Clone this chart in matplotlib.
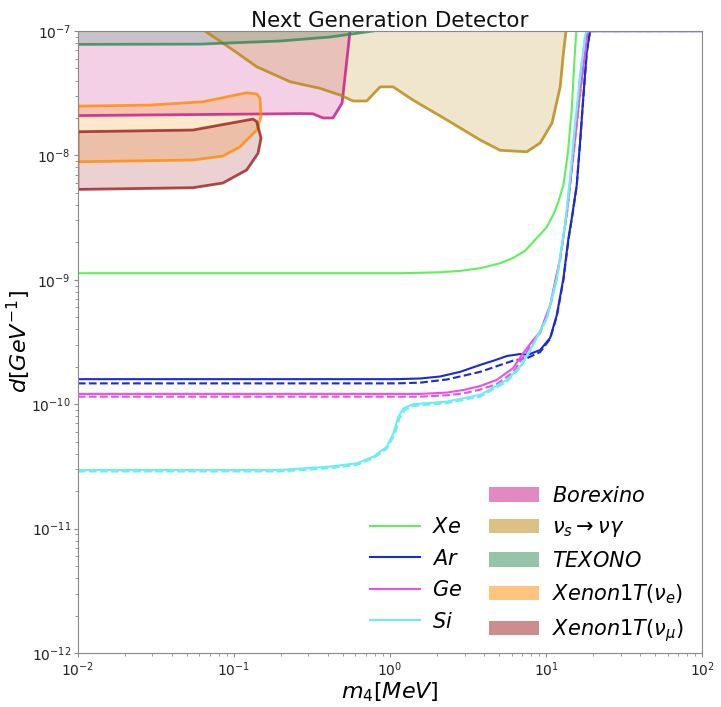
"""
Next Generation Detector: dipole portal sensitivity d vs m4
"""

import matplotlib
matplotlib.use("Agg")
import matplotlib.pyplot as plt
import matplotlib.patches as mpatches
from matplotlib.lines import Line2D

# --- detector sensitivity curves (m4 [MeV], d [GeV^-1]) ---
xe_m = [0.01, 1.16, 1.56, 2.09, 2.81, 3.78, 5.07, 6.14, 7.33, 8.71, 10.0, 11.1,
        11.9, 12.9, 13.8, 14.6, 15.2, 15.6, 100]
xe_d = [1.13e-9, 1.13e-9, 1.14e-9, 1.15e-9, 1.18e-9, 1.24e-9, 1.36e-9, 1.50e-9,
        1.71e-9, 2.17e-9, 2.61e-9, 3.32e-9, 4.14e-9, 5.78e-9, 1.07e-8, 2.40e-8,
        6.07e-8, 1.0e-7, 1.0e-7]

ar_m = [0.01, 1.11, 1.56, 2.09, 2.81, 3.78, 4.71, 5.60, 6.81, 7.67, 8.49, 9.16,
        10.6, 11.7, 12.9, 13.9, 14.6, 15.7, 16.5, 17.4, 18.2, 19.1, 100]
ar_d = [1.59e-10, 1.59e-10, 1.61e-10, 1.67e-10, 1.82e-10, 2.07e-10, 2.26e-10,
        2.44e-10, 2.53e-10, 2.50e-10, 2.63e-10, 2.73e-10, 3.41e-10, 5.21e-10,
        1.03e-9, 2.17e-9, 3.14e-9, 5.78e-9, 1.29e-8, 3.25e-8, 6.82e-8, 1.0e-7, 1.0e-7]
ar_dash_m = [0.01, 1.11, 1.56, 2.31, 3.78, 4.71, 6.14, 7.52, 9.16, 10.6, 11.7,
             12.9, 13.9, 14.6, 15.7, 16.5, 17.4, 18.2, 19.1, 100]
ar_dash_d = [1.47e-10, 1.47e-10, 1.49e-10, 1.58e-10, 1.82e-10, 2.0e-10, 2.24e-10,
             2.34e-10, 2.63e-10, 3.35e-10, 5.1e-10, 1.0e-9, 2.1e-9, 3.1e-9, 5.7e-9,
             1.27e-8, 3.2e-8, 6.7e-8, 1.0e-7, 1.0e-7]

ge_m = [0.01, 1.56, 2.31, 2.94, 3.78, 4.83, 6.14, 7.13, 8.26, 9.16, 10.6, 12.3,
        13.6, 15.0, 16.5, 17.8, 18.4, 100]
ge_d = [1.21e-10, 1.21e-10, 1.24e-10, 1.30e-10, 1.40e-10, 1.57e-10, 1.95e-10,
        2.58e-10, 3.28e-10, 3.83e-10, 6.27e-10, 1.50e-9, 3.52e-9, 1.07e-8,
        3.25e-8, 6.82e-8, 1.0e-7, 1.0e-7]
ge_dash_m = [0.01, 1.56, 2.31, 2.94, 3.78, 4.83, 6.14, 7.13, 8.26, 9.16, 10.6,
             12.3, 13.6, 15.0, 16.5, 17.8, 18.4, 100]
ge_dash_d = [1.15e-10, 1.15e-10, 1.18e-10, 1.22e-10, 1.31e-10, 1.45e-10, 1.80e-10,
             2.40e-10, 3.15e-10, 3.75e-10, 6.1e-10, 1.46e-9, 3.45e-9, 1.05e-8,
             3.2e-8, 6.7e-8, 1.0e-7, 1.0e-7]

si_m = [0.01, 0.197, 0.412, 0.612, 0.782, 0.953, 1.05, 1.13, 1.22, 1.41, 2.31,
        3.78, 5.60, 6.81, 7.89, 10.1, 11.7, 13.2, 14.3, 15.3, 16.5, 17.8, 18.2, 100]
si_d = [2.96e-11, 2.96e-11, 3.15e-11, 3.35e-11, 3.79e-11, 4.55e-11, 5.83e-11,
        7.94e-11, 9.27e-11, 1.00e-10, 1.05e-10, 1.19e-10, 1.57e-10, 2.00e-10,
        2.73e-10, 4.93e-10, 1.03e-9, 2.76e-9, 6.95e-9, 1.75e-8, 4.43e-8, 9.3e-8,
        1.0e-7, 1.0e-7]
si_dash_m = [0.01, 0.197, 0.412, 0.612, 0.782, 0.953, 1.07, 1.15, 1.24, 1.43,
             2.31, 3.78, 5.60, 6.81, 7.89, 10.1, 11.7, 13.2, 14.3, 15.3, 16.5,
             17.8, 18.2, 100]
si_dash_d = [2.88e-11, 2.88e-11, 3.06e-11, 3.25e-11, 3.68e-11, 4.40e-11, 5.7e-11,
             7.7e-11, 9.0e-11, 9.7e-11, 1.02e-10, 1.15e-10, 1.52e-10, 1.95e-10,
             2.68e-10, 4.85e-10, 1.01e-9, 2.7e-9, 6.8e-9, 1.72e-8, 4.35e-8, 9.2e-8,
             1.0e-7, 1.0e-7]

# --- existing bounds ---
borexino_m = [0.01, 0.197, 0.265, 0.321, 0.372, 0.431, 0.493, 0.554]
borexino_d = [2.09e-8, 2.16e-8, 2.17e-8, 2.16e-8, 2.0e-8, 2.0e-8, 2.64e-8, 1.0e-7]

nus_m = [0.0652, 0.0986, 0.140, 0.229, 0.356, 0.478, 0.579, 0.709, 0.864, 1.045,
         1.40, 2.31, 3.78, 5.07, 7.52, 9.16, 10.9, 12.3, 12.9, 13.4]
nus_d = [1.0e-7, 7.04e-8, 5.16e-8, 3.91e-8, 3.46e-8, 3.06e-8, 2.74e-8, 2.74e-8,
         3.56e-8, 3.56e-8, 2.79e-8, 1.93e-8, 1.33e-8, 1.10e-8, 1.07e-8, 1.26e-8,
         1.82e-8, 3.56e-8, 6.65e-8, 1.0e-7]

texono_m = [0.01, 0.0605, 0.197, 0.412, 0.778]
texono_d = [7.81e-8, 7.85e-8, 8.31e-8, 8.95e-8, 1.0e-7]

xe1t_e_m = [0.01, 0.029, 0.0632, 0.1205, 0.140, 0.147, 0.149, 0.140, 0.109,
            0.0849, 0.0546, 0.01, 0.01]
xe1t_e_d = [2.49e-8, 2.54e-8, 2.70e-8, 3.19e-8, 3.12e-8, 2.89e-8, 2.05e-8,
            1.60e-8, 1.17e-8, 9.88e-9, 9.18e-9, 8.89e-9, 2.49e-8]

xe1t_mu_m = [0.01, 0.0546, 0.1324, 0.140, 0.149, 0.1426, 0.1205, 0.0849, 0.0546,
             0.01, 0.01]
xe1t_mu_d = [1.55e-8, 1.60e-8, 1.96e-8, 1.87e-8, 1.38e-8, 1.04e-8, 7.63e-9,
             6.0e-9, 5.50e-9, 5.33e-9, 1.55e-8]

COLORS = {
    "xe": "#5ef05e",
    "ar": "#1a2bd2",
    "ge": "#ee4fe6",
    "si": "#6aeef2",
    "borexino": "#c71585",
    "nus": "#b8860b",
    "texono": "#2e8b57",
    "xe1t_e": "#ff8c00",
    "xe1t_mu": "#9b1c1c",
}

Y_MIN, Y_MAX = 1e-12, 1e-7

fig = plt.figure(figsize=(7.21, 7.07), dpi=100)
ax = fig.add_axes([0.108, 0.0764, 0.866, 0.8797])
ax.set_xscale("log")
ax.set_yscale("log")
ax.set_xlim(1e-2, 1e2)
ax.set_ylim(Y_MIN, Y_MAX)

# shaded bounds
ax.fill_between(borexino_m, borexino_d, Y_MAX, color=COLORS["borexino"], alpha=0.2, lw=0)
ax.plot(borexino_m, borexino_d, color=COLORS["borexino"], lw=2, alpha=0.8)
ax.fill_between(nus_m, nus_d, Y_MAX, color=COLORS["nus"], alpha=0.2, lw=0)
ax.plot(nus_m, nus_d, color=COLORS["nus"], lw=2, alpha=0.8)
ax.fill_between(texono_m, texono_d, Y_MAX, color=COLORS["texono"], alpha=0.2, lw=0)
ax.plot(texono_m, texono_d, color=COLORS["texono"], lw=2, alpha=0.8)
ax.fill(xe1t_e_m, xe1t_e_d, color=COLORS["xe1t_e"], alpha=0.2, lw=0)
ax.plot(xe1t_e_m, xe1t_e_d, color=COLORS["xe1t_e"], lw=2, alpha=0.8)
ax.fill(xe1t_mu_m, xe1t_mu_d, color=COLORS["xe1t_mu"], alpha=0.2, lw=0)
ax.plot(xe1t_mu_m, xe1t_mu_d, color=COLORS["xe1t_mu"], lw=2, alpha=0.8)

# detector curves (solid + dashed)
ax.plot(xe_m, xe_d, color=COLORS["xe"], lw=1.5)
ax.plot(ar_m, ar_d, color=COLORS["ar"], lw=1.5)
ax.plot(ar_dash_m, ar_dash_d, color=COLORS["ar"], lw=1.5, ls="--")
ax.plot(ge_m, ge_d, color=COLORS["ge"], lw=1.5)
ax.plot(ge_dash_m, ge_dash_d, color=COLORS["ge"], lw=1.5, ls="--")
ax.plot(si_m, si_d, color=COLORS["si"], lw=1.5)
ax.plot(si_dash_m, si_dash_d, color=COLORS["si"], lw=1.5, ls="--")

# legend: lines in left column, patches in right column
handles = [
    Line2D([], [], color="none"),
    Line2D([], [], color=COLORS["xe"], lw=1.5),
    Line2D([], [], color=COLORS["ar"], lw=1.5),
    Line2D([], [], color=COLORS["ge"], lw=1.5),
    Line2D([], [], color=COLORS["si"], lw=1.5),
    mpatches.Patch(color=COLORS["borexino"], alpha=0.5, lw=0),
    mpatches.Patch(color=COLORS["nus"], alpha=0.5, lw=0),
    mpatches.Patch(color=COLORS["texono"], alpha=0.5, lw=0),
    mpatches.Patch(color=COLORS["xe1t_e"], alpha=0.5, lw=0),
    mpatches.Patch(color=COLORS["xe1t_mu"], alpha=0.5, lw=0),
]
labels = ["", "$Xe$", "$Ar$", "$Ge$", "$Si$",
          "$Borexino$", r"$\nu_s \rightarrow \nu\gamma$", "$TEXONO$",
          r"$Xenon1T(\nu_e)$", r"$Xenon1T(\nu_\mu)$"]
ax.legend(handles, labels, ncol=2, loc="lower right", frameon=False, fontsize=15,
          handlelength=2.4, handletextpad=0.6, columnspacing=1.3, labelspacing=0.55,
          borderaxespad=0.15, bbox_to_anchor=(0.988, -0.004))

ax.set_title("Next Generation Detector", fontsize=15.5, pad=2, color="#111111")
ax.set_xlabel("$m_4[MeV]$", fontsize=16, labelpad=1)
ax.set_ylabel("$d[GeV^{-1}]$", fontsize=16)
ax.yaxis.set_label_coords(-0.072, 0.5)

for sp in ax.spines.values():
    sp.set_color("#888888")
ax.tick_params(which="both", colors="#888888", labelcolor="#222222", labelsize=10, pad=2)
ax.tick_params(which="major", length=3)
ax.tick_params(which="minor", length=2)

fig.savefig("out.png", dpi=100)
